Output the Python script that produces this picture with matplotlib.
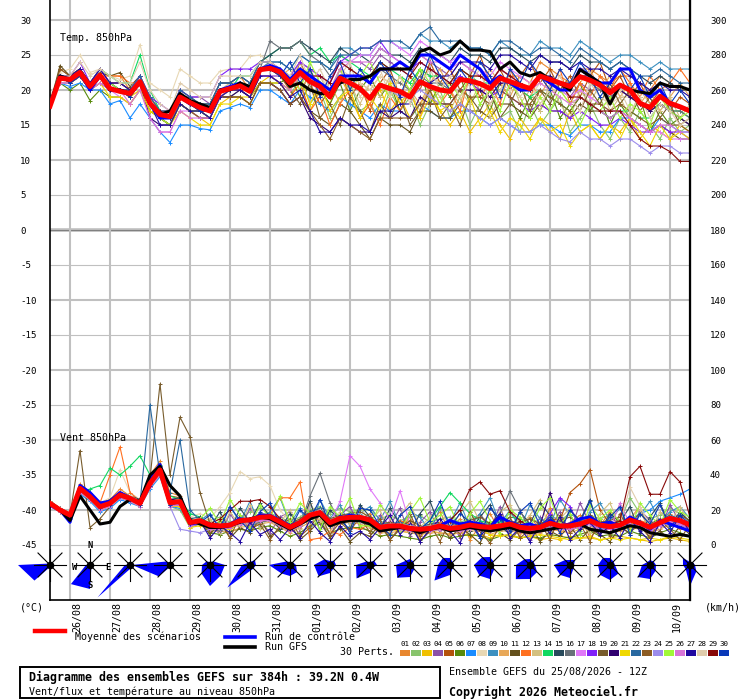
import numpy as np
import matplotlib
matplotlib.use("Agg")
import matplotlib.pyplot as plt
from matplotlib.patches import Rectangle
from matplotlib.transforms import ScaledTranslation

plt.rcParams['font.family'] = 'DejaVu Sans Mono'

# forecast steps, every 6h over 384h
HOURS = np.arange(65) * 6

DATES = ["26/08", "27/08", "28/08", "29/08", "30/08", "31/08", "01/09", "02/09",
         "03/09", "04/09", "05/09", "06/09", "07/09", "08/09", "09/09", "10/09"]

PERT_COLORS = ['#e8872f', '#88c46c', '#f0c000', '#8c52a8', '#b4520c', '#588a0c',
               '#1a8cff', '#e8d8b4', '#3c90c0', '#e8a858', '#64501c', '#ff7020',
               '#d4c080', '#10d860', '#284a5c', '#687078', '#e078f8', '#8020f8',
               '#785c2c', '#300070', '#f0d800', '#2868a0', '#8c5c24', '#9c8cec',
               '#a0f838', '#d874d8', '#2008a0', '#e0ccac', '#880808', '#0838b8']

# temperature 850hPa (°C)
T_MEAN = [17.7, 21.7, 21.5, 22.5, 20.5, 22.1, 20.2, 19.8, 19.5, 21.2,
          18.1, 16.5, 16.2, 19.0, 18.2, 17.5, 17.0, 19.8, 20.2, 20.6,
          19.8, 22.9, 23.1, 22.6, 21.0, 22.5, 21.2, 20.5, 19.0, 21.7,
          21.0, 20.2, 18.8, 20.7, 20.2, 19.8, 19.0, 21.2, 20.5, 20.0,
          19.8, 21.5, 21.3, 20.9, 20.2, 21.7, 21.2, 20.7, 20.2, 22.0,
          21.5, 21.0, 20.5, 21.9, 21.4, 20.7, 19.6, 20.7, 20.0, 18.1,
          17.5, 19.1, 18.1, 17.6, 17.0]
T_CTRL = "18 22 21.5 22.5 20 22 20 20 | 19.5 21 18 16 16 19 18 17.5 | 17 20 20.5 21 20 23 23.5 23 | 21.5 23 22 21 20 22 22 22 | 21 23 23 24 23 25 25 24 | 23 25 24 23 21 22 21 20 | 20 22 21 20 20 23 22 21 | 21 23 23 20 19 20 18 17.5 | 17"
T_GFS = "18 22 21.5 22.5 20.5 22 20 20 | 19.5 21 18 16.5 17 19.5 18.5 18 | 17.5 20 20 21 20.5 23 23 22.5 | 20.5 21 20 19.5 19.5 21 21.5 21.5 | 22 23 23 23 23 25.5 26 25 | 25.5 27 25.7 25.7 25.5 23 24 22.5 | 22 22.5 21.5 21 20 22.9 22 21 | 18 20.7 20 19.7 19.5 21 20.5 20.5 | 20"
T_PERTS = [
    "18 22 22 23 21 23 22 22 | 20 21 19 17 17 20 19 18 | 18 21 21 22 20 23 24 23 | 21 23 22 21 19 22 22 21 | 20 22 21 21 20 23 22 21 | 21 23 22 22 21 23 22 22 | 21 24 23 22 21 23 23 22 | 21 22 22 21 20 22 21 20 | 20",
    "18 21 21 22 20 22 21 20 | 19 21 18 16 15 19 18 17 | 16 19 19 20 19 22 22 21 | 19 22 18 20 16 19 21 17 | 18 16 20 17 19 15 18 20 | 16 19 15 18 20 16 17 14 | 18 15 17 19 14 16 18 15 | 13 16 14 17 15 13 16 14 | 15",
    "18 22 21 22 20 21 20 20 | 19 20 17 16 15 18 17 16 | 15 18 19 19 18 21 22 21 | 19 21 17 20 18 22 19 16 | 18 20 17 19 16 18 20 17 | 15 17 14 16 18 15 13 16 | 14 16 15 13 17 14 15 13 | 15 14 16 13 15 14 13 15 | 14",
    "18 22 22 23 21 22 20 20 | 20 22 19 17 17 20 19 19 | 18 21 21 22 21 24 24 23 | 22 24 23 22 21 25 24 24 | 23 25 24 23 22 25 24 23 | 22 24 23 22 21 23 22 21 | 20 22 21 20 19 21 20 20 | 19 20 19 18 17 18 17 16 | 15",
    "18 23 22 23 21 23 21 21 | 20 22 19 17 16 19 18 18 | 17 20 20 21 20 22 22 22 | 20 24 21 18 20 23 19 21 | 17 21 23 19 22 20 24 21 | 23 20 22 25 21 23 20 22 | 24 21 23 20 22 19 22 24 | 20 22 19 21 18 20 17 19 | 18",
    "18 21 20 21 18.5 20 19 19 | 18 20 17 16 15 18 17 17 | 16 19 20 20 19 21 21 21 | 22 19 23 20 18 21 17 20 | 22 19 21 17 20 23 18 21 | 19 22 18 20 17 21 19 16 | 19 17 20 16 18 21 17 19 | 15 18 16 19 14 17 15 16 | 15",
    "18 21 20.5 21 20 20 18 18.5 | 16 18 16 14 12.5 15 15 14.5 | 14.3 17 17.5 18 17.5 20 20 19 | 18 20 19 18 17 19 18 17 | 16 18 17 17 16 18 17 16 | 16 17 17 16 15 16 15 14 | 14 15 15 14 13.5 15 15 14 | 14 16 16 15 14 16 15 14 | 14",
    "19 22.5 23 25 22.5 23 22 21.5 | 22 26.5 21 20 19 23 22 21 | 21 22.7 23 23 24.8 25 24 23 | 22 24 23 22 20 23 22 21 | 20 22 21 21 20 22 22 21 | 20 22 21 21 20 21 20 20 | 19 21 20 20 19 20 19 18 | 18 19 19 18 17 18 17 17 | 16",
    "18 22 21 22 20 22 20 20 | 19 21 18 17 16 19 18 18 | 17 20 20 21 20 23 24 24 | 23 25 24 24 23 26 26 25 | 25 27 27 26 26 28 27 27 | 26 27 26 26 25 27 26 25 | 25 27 26 26 25 27 26 25 | 24 25 25 24 23 24 23 23 | 23",
    "18 22 21 23 21 22 20 20 | 19 21 18 17 16 19 18 17 | 17 20 20 20 20 23 23 22 | 23 20 22 19 21 18 22 20 | 18 21 19 22 20 18 21 23 | 20 18 22 20 23 21 19 22 | 21 19 22 20 18 21 23 20 | 22 19 21 18 20 17 19 21 | 19",
    "18 23.5 22 23 21 22.5 22 22.5 | 20.5 22 18 16 15 18 17 16 | 16 19 19 19 18 21 21 20 | 18 19 17 16 15 18 17 15 | 13 16 15 15 14 17 17 16 | 16 18 17 17 16 18 18 17 | 16 18 17 17 16 18 17 17 | 16 17 16 15 14 15 14 13 | 13",
    "18 22 21 22 21 22 22 22 | 21 21 19 17 16 19 18 17 | 17 20 20 21 20 22 22 21 | 19 21 17 19 15 18 20 16 | 18 15 19 17 20 16 21 18 | 20 17 22 19 21 18 23 20 | 19 22 20 23 18 21 19 22 | 20 23 21 19 22 20 21 23 | 21",
    "18 21 21 22 20 22 20 20 | 19 21 18 17 16 19 18 17 | 17 20 21 21 20 22 22 22 | 21 24 20 22 19 23 21 18 | 21 19 22 18 20 17 21 19 | 17 20 18 21 16 19 22 18 | 20 17 21 18 16 20 18 21 | 17 19 16 20 18 17 19 16 | 18",
    "18 22 22 23 21 23 22 21 | 21 25 20 17 16 19 18 18 | 17 20 20 22 22 24 25 26 | 26 27 25 26 24 25 24 23 | 22 24 23 22 21 23 22 22 | 21 23 22 21 21 22 21 20 | 19 20 19 18 17 19 18 17 | 16 17 17 16 16 18 17 17 | 16",
    "18 22 21 22 20 22 21 20 | 20 22 18 17 16 19 19 18 | 18 21 21 22 21 24 25 26 | 26 27 26 25 24 26 25 25 | 24 26 25 25 24 26 25 25 | 24 26 25 25 24 26 26 25 | 24 25 24 24 23 25 24 24 | 23 24 23 22 21 22 21 20 | 20",
    "18 21 21 22 20 22 20 20 | 19 21 18 16 16 19 18 18 | 17 20 20 21 20 23 27 26 | 26 27 25 24 22 24 23 22 | 21 23 22 21 20 22 21 21 | 20 22 21 21 20 22 21 21 | 20 22 21 21 20 22 21 20 | 19 20 19 18 17 18 17 17 | 16",
    "18 21 21 22 20 21 20 19 | 18 20 16 14 14 17 17 16 | 16 19 20 20 19 22 22 22 | 21 23 22 22 21 24 24 25 | 25 27 27 26 25 27 26 25 | 24 25 24 23 22 24 23 22 | 21 22 21 20 19 20 19 18 | 17 17 16 15 14 14 13 13 | 13",
    "18 22 22 24 21 23 21 21 | 20 22 19 18 17 20 19 19 | 19 22 23 23 23 24 24 23 | 22 24 23 22 21 24 25 26 | 26 27 25 24 23 24 23 22 | 21 22 21 20 19 20 19 18 | 17 18 17 17 16 17 16 15 | 15 16 15 14 14 15 14 14 | 13",
    "18 22 22 23 21 22 21 20 | 20 21 18 16 15 18 17 17 | 16 19 20 20 19 22 22 21 | 20 18 21 16 18 15 19 17 | 14 18 16 19 15 17 20 16 | 18 15 19 17 20 16 18 21 | 17 20 18 21 19 17 20 18 | 21 18 20 17 19 16 18 15 | 16",
    "18 22 21 22 20 21 20 20 | 19 21 16 15 15 18 17 17 | 16 19 19 20 19 21 21 20 | 18 19 16 15 14 16 15 14 | 14 17 16 17 16 19 18 18 | 18 20 20 20 19 21 21 20 | 20 22 22 21 21 22 22 21 | 20 20 19 18 17 18 17 16 | 15",
    "18 21 21 22 20 21 19 19 | 18 20 17 16 15 17 16 15 | 15 18 18 19 19 21 21 21 | 20 22 18 21 17 19 20 16 | 19 17 21 18 20 16 19 17 | 18 16 19 15 17 14 16 15 | 13 16 14 15 12 14 15 13 | 15 13 16 14 12 15 13 14 | 13",
    "18 22 22 23 21 22 21 20 | 20 22 19 17 17 20 19 18 | 18 21 21 22 21 24 24 24 | 23 25 24 24 23 25 25 26 | 26 27 27 27 26 28 29 27 | 27 27 26 26 25 27 27 26 | 25 26 26 25 24 26 25 24 | 23 24 23 22 22 23 22 21 | 21",
    "18 23 22 23 21 22 21 21 | 20 21 18 16 15 18 17 16 | 16 19 19 19 18 21 21 20 | 18 19 17 15 13 16 15 14 | 13 16 16 16 16 18 18 18 | 18 20 19 19 18 20 19 18 | 18 20 19 18 17 19 18 18 | 17 18 17 16 15 16 15 15 | 14",
    "18 21 21 22 20 22 20 20 | 19 21 18 17 16 19 18 17 | 17 20 20 21 20 22 22 22 | 21 22 21 20 19 21 21 20 | 19 21 20 19 19 20 19 18 | 17 18 17 16 15 16 15 14 | 14 15 14 13 12.6 14 13 13 | 12 13 13 12 11 12 12 11 | 11",
    "18 22 21 22 20 22 21 20 | 19 21 18 16 15 18 17 17 | 16 19 20 21 20 23 23 23 | 22 20 24 21 19 23 20 22 | 24 21 19 22 20 23 21 18 | 21 19 22 18 20 17 21 19 | 16 19 17 20 18 15 18 17 | 19 16 18 17 15 19 17 16 | 17",
    "18 21 21 22 20 21 20 20 | 18 20 16 14 14 17 16 16 | 16 19 20 21 20 22 22 21 | 20 22 21 20 20 23 24 24 | 24 26 25 24 23 25 24 24 | 23 24 23 22 21 23 22 21 | 20 21 20 19 18 19 18 17 | 16 17 16 15 14 15 15 14 | 14",
    "18 22 22 23 21 23 21 21 | 20 21 18 15 15 18 17 17 | 16 19 20 20 19 22 22 21 | 19 20 17 14 14 16 15 15 | 14 17 17 18 18 21 21 22 | 22 24 24 24 23 25 25 24 | 23 25 24 24 23 24 23 23 | 22 23 22 21 20 21 20 20 | 19",
    "18 22 22 24 22 23 22 21 | 21 24 20 18 17 21 20 19 | 19 22 22 22 22 24 24 23 | 22 25 21 23 20 22 24 19 | 21 23 19 22 18 21 23 20 | 22 19 21 23 18 20 22 19 | 21 18 20 22 19 17 21 19 | 18 20 17 19 16 18 17 15 | 16",
    "18 22 21 22 20 22 20 20 | 19 21 18 17 16 19 18 17 | 17 20 20 21 20 23 23 22 | 21 23 22 22 21 24 23 22 | 22 24 23 23 22 24 23 22 | 21 23 22 22 21 23 22 21 | 20 22 21 21 19 19 18 17 | 17 17 15 13 12 12 11.2 9.8 | 9.8",
    "18 22 21 22 20 22 20 20 | 19 21 18 16 16 19 18 17 | 17 20 20 21 20 23 23 22 | 24 21 23 19 22 24 20 23 | 21 24 22 19 23 21 25 22 | 20 23 21 24 22 19 23 21 | 24 22 20 23 21 24 22 19 | 21 23 20 22 19 21 18 20 | 18",
]

# wind 850hPa (km/h)
W_MEAN = [23.8, 20.0, 17.1, 32.4, 27.6, 21.9, 23.8, 28.6, 26.7, 23.8,
          35.2, 42.9, 24.2, 24.8, 12.8, 13.9, 11.4, 10.9, 11.4, 13.9,
          14.3, 15.8, 16.2, 13.3, 10.1, 12.8, 17.1, 18.5, 12.8, 15.2,
          15.8, 15.8, 14.3, 10.1, 10.9, 10.9, 9.5, 9.0, 9.5, 10.9,
          9.5, 10.1, 11.4, 10.5, 10.1, 10.9, 12.0, 10.1, 9.5, 10.1,
          12.4, 10.9, 10.9, 12.0, 13.9, 11.4, 10.5, 11.4, 14.3, 12.4,
          10.1, 12.8, 15.2, 13.9, 11.4]
W_CTRL = "24 20 13 34 30 24 25 30 | 27 24 38 46 25 24 12 13 | 10 11 12 15 14 17 17 14 | 11 13 16 19 12 15 17 16 | 15 10 11 11 10 9 10 11 | 14 12 13 12 10 16 13 11 | 12 10 14 11 12 15 16 12 | 13 11 16 13 9 14 12 10 | 8"
W_GFS = "24 20 14 28 20 12 13 22 | 26 25 40 45 34 28 14 12 | 10 10 11 13 15 16 15 12 | 9 12 15 17 11 13 14 14 | 12 8 9 10 9 7 9 10 | 8 9 10 9 8 9 10 8 | 7 8 9 10 11 12 9 8 | 7 9 11 10 7 6 5 6 | 5"
W_PERTS = [
    "24 21 18 35 30 24 26 32 | 28 26 40 48 30 28 14 12 | 10 9 12 16 15 18 17 14 | 11 14 18 20 12 14 17 15 | 18 6 14 9 16 4 12 19 | 7 15 3 11 18 8 14 5 | 16 9 21 6 13 17 4 11 | 19 8 15 22 6 12 18 9 | 12",
    "23 19 16 30 26 21 22 27 | 25 22 33 40 22 20 10 12 | 14 16 13 15 19 21 18 16 | 13 16 20 22 18 21 19 20 | 20 15 17 14 16 17 13 15 | 16 13 15 17 12 14 18 13 | 15 13 17 14 18 14 17 15 | 17 14 27 18 15 17 21 18 | 14",
    "24 20 17 31 27 21 25 30 | 27 25 36 44 26 24 11 13 | 9 10 12 13 12 15 17 12 | 8 12 15 17 12 13 15 16 | 13 8 9 8 7 6 8 7 | 6 7 5 6 4 6 5 4 | 5 3 4 3 5 4 4 3 | 4 5 4 3 2 3 4 3 | 2",
    "25 21 18 33 29 23 24 28 | 26 25 34 42 25 26 14 15 | 12 6 18 9 21 14 7 16 | 19 8 24 12 5 17 22 10 | 8 17 11 21 5 13 19 7 | 15 4 12 18 9 22 6 14 | 3 16 10 19 7 24 12 5 | 17 11 6 20 14 8 23 13 | 12",
    "24 20 18 34 28 22 24 29 | 27 24 37 45 28 27 13 14 | 11 12 12 14 14 16 17 13 | 11 13 17 19 14 16 17 17 | 15 10 11 12 11 10 12 13 | 10 11 13 12 10 12 14 12 | 11 12 15 14 30 35 43 20 | 12 11 14 13 10 12 14 13 | 11",
    "23 20 16 30 26 20 23 28 | 26 23 34 41 24 24 12 13 | 7 6 8 9 8 10 11 8 | 5 7 11 13 7 9 10 10 | 8 5 6 5 4 3 5 6 | 4 5 6 5 3 5 6 4 | 5 4 6 5 4 6 8 5 | 6 5 8 6 4 7 9 7 | 5",
    "22 19 15 29 25 19 21 26 | 24 22 32 39 22 21 11 12 | 10 10 10 12 13 14 15 12 | 9 11 15 17 11 13 14 14 | 12 9 10 10 9 8 9 10 | 9 10 11 10 9 10 11 9 | 9 10 12 11 10 12 13 10 | 11 10 14 18 20 25 27 29 | 32",
    "24 21 18 33 29 24 27 43 | 30 26 38 45 26 26 16 18 | 15 22 30 42 38 39 34 20 | 13 15 18 20 14 16 15 16 | 14 10 11 11 10 9 10 11 | 10 10 11 11 10 11 12 10 | 10 10 12 11 11 12 14 11 | 11 11 14 12 10 13 15 14 | 11",
    "24 20 17 32 27 22 25 30 | 28 25 36 44 25 24 13 14 | 18 9 22 13 25 11 19 27 | 12 21 8 26 15 23 11 18 | 22 14 25 11 19 16 8 21 | 13 24 10 18 27 12 20 9 | 23 15 11 26 17 8 19 24 | 14 21 9 17 25 13 19 22 | 15",
    "23 20 17 31 27 21 23 28 | 26 23 35 43 24 25 12 13 | 8 8 7 10 11 12 13 10 | 7 10 13 15 10 12 13 12 | 10 7 7 8 7 6 7 7 | 6 7 8 8 6 8 8 7 | 6 7 9 8 7 9 10 8 | 7 8 10 9 7 9 12 10 | 8",
    "25 21 17 33 28 22 24 29 | 27 24 35 42 23 25 13 13 | 6 13 4 10 7 15 5 9 | 12 3 8 14 4 10 2 7 | 5 12 3 9 14 2 8 11 | 4 10 6 1 13 7 3 9 | 12 2 8 5 11 3 9 6 | 2 10 7 13 4 8 3 11 | 6",
    "24 20 17 33 28 24 40 56 | 30 25 36 44 26 25 14 15 | 12 11 12 14 15 16 17 27 | 27 36 3 4 8 6 10 9 | 12 8 9 14 12 7 8 13 | 11 8 13 9 12 9 14 8 | 12 9 10 13 9 14 12 13 | 9 13 12 14 12 11 13 16 | 10",
    "23 19 16 31 29 23 25 30 | 28 25 36 41 23 26 14 13 | 15 7 19 11 23 9 17 13 | 20 9 24 14 7 19 12 22 | 13 20 7 17 24 10 16 22 | 9 18 25 13 6 19 23 11 | 17 26 8 15 21 12 7 18 | 24 10 16 20 7 19 13 22 | 12",
    "24 20 18 30 32 34 44 40 | 45 51 40 46 28 26 18 16 | 12 10 11 13 14 15 16 13 | 10 12 16 18 12 14 15 16 | 14 10 11 11 10 9 14 22 | 30 24 18 14 12 13 16 15 | 12 11 10 12 10 11 12 10 | 9 11 13 12 10 12 14 13 | 10",
    "25 21 18 33 28 23 26 30 | 28 26 38 45 26 27 15 16 | 10 19 8 21 13 24 16 9 | 18 11 25 8 20 14 9 23 | 16 9 21 12 7 18 25 10 | 14 20 8 16 23 11 6 19 | 12 24 17 9 20 14 26 8 | 18 13 22 7 16 24 11 19 | 13",
    "24 20 17 32 28 22 24 29 | 27 24 35 43 25 25 13 14 | 9 8 10 12 11 13 14 11 | 8 11 28 41 24 13 14 13 | 11 8 9 9 8 7 8 9 | 8 8 9 9 8 18 31 20 | 8 8 10 9 9 10 12 9 | 9 9 12 10 8 11 13 12 | 9",
    "23 20 17 31 27 21 23 28 | 26 23 34 41 23 24 12 13 | 10 10 11 13 13 15 15 12 | 9 12 16 18 12 25 51 45 | 32 24 14 31 12 9 10 11 | 10 10 11 11 10 11 12 10 | 10 10 12 11 11 12 14 11 | 11 11 14 12 10 13 15 14 | 10",
    "22 19 16 30 26 20 22 27 | 25 22 33 40 22 23 11 12 | 9 9 10 12 12 14 14 11 | 8 11 15 17 11 13 14 14 | 12 8 9 9 8 7 8 9 | 8 8 9 9 8 9 10 8 | 8 8 18 27 22 10 12 9 | 9 9 12 10 8 11 13 12 | 9",
    "24 20 17 54 10 15 22 28 | 27 24 38 92 40 73 62 30 | 12 11 11 14 14 16 16 13 | 12 15 19 21 15 17 18 19 | 16 12 13 10 14 11 9 12 | 13 11 14 16 12 17 12 13 | 15 12 11 14 16 11 17 13 | 14 16 13 18 12 15 13 17 | 14",
    "25 21 17 33 28 23 25 30 | 28 25 36 44 26 26 14 15 | 12 12 12 15 15 17 17 14 | 11 14 18 20 14 16 17 17 | 15 11 12 12 11 10 11 12 | 11 11 12 12 11 12 13 11 | 11 11 30 12 12 13 15 12 | 12 12 15 13 11 14 16 15 | 12",
    "23 19 16 30 26 20 22 27 | 25 22 33 40 22 22 10 11 | 9 9 9 12 12 14 14 11 | 8 11 15 17 11 13 14 14 | 12 8 9 9 8 7 8 9 | 8 8 9 9 6 5 6 4 | 5 6 5 4 3 4 5 3 | 4 3 4 3 4 3 5 4 | 3",
    "24 20 17 32 28 22 24 29 | 27 24 80 40 30 60 20 14 | 11 13 12 16 14 18 17 15 | 12 14 19 21 14 16 18 17 | 15 12 12 13 11 10 12 12 | 11 12 12 13 11 12 14 11 | 12 11 13 12 12 14 15 12 | 12 13 15 13 11 14 17 15 | 12",
    "23 21 18 31 27 21 23 28 | 26 23 34 42 23 24 12 13 | 8 14 4 17 9 12 3 11 | 15 5 10 18 6 13 8 16 | 7 15 3 10 18 5 12 2 | 14 6 19 8 1 11 16 4 | 9 13 3 17 7 12 2 15 | 5 18 8 11 4 14 9 3 | 12",
    "24 20 17 31 27 21 23 27 | 26 23 34 41 22 9 8 7 | 9 10 11 13 13 15 15 12 | 9 12 16 18 12 14 15 15 | 13 9 10 10 9 8 9 10 | 9 9 10 10 9 10 11 9 | 9 9 11 10 10 11 13 10 | 10 10 13 11 9 12 14 13 | 10",
    "25 21 18 33 29 23 25 30 | 28 25 36 44 25 26 14 15 | 21 12 26 17 10 23 15 28 | 13 24 18 9 22 16 27 11 | 11 23 16 8 19 27 13 17 | 22 9 18 25 14 7 20 16 | 10 21 27 12 18 6 23 15 | 20 13 8 24 17 11 26 19 | 16",
    "23 19 16 30 26 20 22 27 | 25 22 33 40 22 23 11 12 | 9 9 10 12 12 14 14 11 | 8 11 15 17 11 13 14 14 | 12 8 9 9 8 7 8 9 | 8 8 9 9 8 9 10 8 | 8 8 10 9 9 10 12 9 | 9 24 12 10 8 11 13 12 | 9",
    "24 21 18 33 28 23 25 29 | 27 25 36 43 25 25 13 14 | 4 11 7 2 13 6 9 3 | 10 4 14 7 2 11 5 8 | 3 10 17 6 12 2 9 15 | 8 1 14 5 11 18 4 10 | 2 12 7 16 3 9 13 6 | 11 4 15 8 2 13 7 17 | 7",
    "25 21 18 34 29 23 25 30 | 28 25 37 44 25 26 14 15 | 12 12 12 15 15 17 17 14 | 11 14 18 20 14 16 17 17 | 15 11 12 12 11 10 11 12 | 11 11 12 12 11 12 13 11 | 11 11 13 12 12 13 15 12 | 12 12 33 22 11 14 16 15 | 12",
    "24 20 17 32 28 22 24 29 | 27 24 35 43 24 25 13 14 | 12 15 20 25 25 26 22 15 | 10 13 17 19 13 15 16 16 | 14 10 11 11 10 9 10 11 | 14 20 32 36 29 31 19 14 | 10 10 12 11 11 12 14 11 | 11 14 39 45 29 29 42 36 | 16",
    "23 20 17 31 27 21 23 28 | 26 23 34 42 23 24 12 13 | 17 10 22 14 8 19 24 12 | 9 20 15 26 11 17 7 21 | 20 11 6 17 22 9 14 25 | 10 18 13 4 21 15 8 19 | 24 11 16 7 20 13 25 9 | 16 22 6 18 12 23 10 17 | 12",
]

# daily wind roses (radius in px) for N, NE, E, SE, S, SW, W, NW
ROSES = [
    [1, 1, 2, 1, 2, 22, 32, 2],
    [1, 1, 1, 2, 24, 27, 4, 1],
    [1, 1, 1, 1, 4, 46, 5, 1],
    [2, 2, 3, 2, 2, 16, 38, 5],
    [3, 5, 15, 15, 21, 12, 8, 5],
    [3, 7, 6, 5, 6, 32, 8, 3],
    [3, 4, 6, 10, 11, 12, 21, 5],
    [4, 6, 6, 5, 8, 16, 16, 8],
    [3, 6, 7, 4, 8, 19, 14, 5],
    [6, 5, 4, 6, 12, 18, 14, 6],
    [7, 4, 3, 4, 10, 22, 12, 10],
    [8, 5, 3, 6, 14, 15, 16, 11],
    [6, 5, 5, 10, 14, 20, 14, 8],
    [5, 7, 4, 5, 13, 14, 16, 7],
    [7, 5, 5, 12, 15, 14, 12, 10],
    [5, 5, 6, 8, 14, 17, 8, 4],
    [3, 4, 5, 9, 21, 6, 7, 10],
]


def series(s):
    return np.array(s.replace('|', ' ').split(), dtype=float)


def wind_to_y(w):
    # wind panel shares the axis: 0 km/h at -45, 4 km/h per unit
    return np.asarray(w, dtype=float) / 4.0 - 45


W, H = 740, 700
fig = plt.figure(figsize=(W / 100, H / 100), dpi=100)
ax = fig.add_axes([50 / W, 100 / H, 640 / W, 600 / H])
ytop, ybot = 230 / 7, (230 - 600) / 7
ax.set_xlim(0, 384)
ax.set_ylim(ybot, ytop)
sx = 384 / 640          # hours per px
sy = (ytop - ybot) / 600  # units per px

# grid
for v in range(-45, 31, 5):
    ax.axhline(v, color='#c0c0c0', lw=1.5 if v % 10 == 0 else 0.8, zorder=0)
ax.axhline(0, color='#c0c0c0', lw=2.6, zorder=0)
ax.axhline(0, color='#808080', lw=0.8, zorder=0)
day_ticks = 12 + 24 * np.arange(16)
ax.set_xticks(day_ticks)
ax.set_xticklabels(DATES, rotation=90, fontsize=7.2)
ax.grid(axis='x', color='#c0c0c0', lw=1.5)
ax.set_axisbelow(True)
ax.tick_params(axis='x', length=0, pad=1.5)
for lab in ax.get_xticklabels():
    lab.set_transform(lab.get_transform() + ScaledTranslation(0.07, 0, fig.dpi_scale_trans))

yt = list(range(-45, 31, 5))
ax.set_yticks(yt)
ax.set_yticklabels([str(v) for v in yt], fontsize=6.6)
ax.tick_params(axis='y', length=0, pad=21.6)
for lab in ax.get_yticklabels():
    lab.set_horizontalalignment('left')

ax2 = ax.twinx()
ax2.set_ylim(ybot, ytop)
ax2.set_yticks(yt)
ax2.set_yticklabels([str(180 + 4 * v) for v in yt], fontsize=6.6)
ax2.tick_params(axis='y', length=0, pad=14.4)

for a in (ax, ax2):
    a.spines['top'].set_visible(False)
ax.spines['left'].set_linewidth(1.2)
ax.spines['bottom'].set_linewidth(1.2)
ax2.spines['right'].set_linewidth(1.6)
ax2.spines['left'].set_visible(False)
ax2.spines['bottom'].set_visible(False)

# perturbations
for col, ts, ws in zip(PERT_COLORS, T_PERTS, W_PERTS):
    ax.plot(HOURS, series(ts), color=col, lw=0.8, marker='+', ms=3, mew=0.7, zorder=2)
    ax.plot(HOURS, wind_to_y(series(ws)), color=col, lw=0.8, marker='+', ms=3, mew=0.7, zorder=2)

ax.plot(HOURS, series(T_CTRL), color='#0000ff', lw=2.2, zorder=3)
ax.plot(HOURS, wind_to_y(series(W_CTRL)), color='#0000ff', lw=2.2, zorder=3)
ax.plot(HOURS, series(T_GFS), color='black', lw=2.2, zorder=4)
ax.plot(HOURS, wind_to_y(series(W_GFS)), color='black', lw=2.2, zorder=4)
ax.plot(HOURS, T_MEAN, color='#ff0000', lw=3.6, zorder=5)
ax.plot(HOURS, wind_to_y(W_MEAN), color='#ff0000', lw=3.6, zorder=5)

ax.text(10 * sx, (230 - 38) / 7, 'Temp. 850hPa', fontsize=7.2, va='center', zorder=6)
ax.text(10 * sx, (230 - 438) / 7, 'Vent 850hPa', fontsize=7.2, va='center', zorder=6)

# wind roses, one per day
dirs = np.array([[0, -1], [0.707, -0.707], [1, 0], [0.707, 0.707],
                 [0, 1], [-0.707, 0.707], [-1, 0], [-0.707, -0.707]])
yc = (230 - 565) / 7
for k, radii in enumerate(ROSES):
    hc = 24 * k
    pts = [(hc + r * d[0] * sx, yc - r * d[1] * sy) for r, d in zip(radii, dirs)]
    ax.fill([p[0] for p in pts], [p[1] for p in pts], color='#0000ff', lw=0,
            zorder=6, clip_on=False)
    for ddx, ddy in [(16, 0), (0, 16), (12, 12), (12, -12)]:
        ax.plot([hc - ddx * sx, hc + ddx * sx], [yc + ddy * sy, yc - ddy * sy],
                color='black', lw=0.8, zorder=7, clip_on=False)
    ax.plot([hc], [yc], 'o', color='black', ms=4.5, zorder=8, clip_on=False)

for lbl, ox, oy in [('N', 0, -19), ('W', -15, 2), ('E', 18, 2), ('S', 0, 21)]:
    ax.text(24 + ox * sx, yc - oy * sy, lbl, fontsize=6.3, fontweight='bold',
            ha='center', va='center', zorder=9, clip_on=False)

# legend / captions in pixel coordinates
ov = fig.add_axes([0, 0, 1, 1])
ov.set_xlim(0, W)
ov.set_ylim(H, 0)
ov.axis('off')

ov.text(20, 607, '(°C)', fontsize=7.2, va='center')
ov.text(705, 607, '(km/h)', fontsize=7.2, va='center')

ov.plot([35, 65], [631, 631], color='#ff0000', lw=3.2)
ov.text(75, 637, 'Moyenne des scénarios', fontsize=7.2, va='center')
ov.plot([225, 255], [637, 637], color='#0000ff', lw=2.6)
ov.text(265, 637, 'Run de contrôle', fontsize=7.2, va='center')
ov.plot([225, 255], [647, 647], color='black', lw=2.6)
ov.text(265, 647, 'Run GFS', fontsize=7.2, va='center')
ov.text(340, 652, '30 Perts.', fontsize=7.2, va='center')

for j, col in enumerate(PERT_COLORS):
    x0 = 400 + 11 * j
    ov.add_patch(Rectangle((x0, 650), 10, 6, color=col, lw=0))
    ov.text(x0 + 5, 644, '%02d' % (j + 1), fontsize=5.4, ha='center', va='center')

ov.add_patch(Rectangle((20, 667), 420, 31, fill=False, edgecolor='black', lw=1.4))
ov.text(29, 677, 'Diagramme des ensembles GEFS sur 384h : 39.2N 0.4W',
        fontsize=8.4, fontweight='bold', va='center')
ov.text(29, 692, 'Vent/flux et température au niveau 850hPa', fontsize=7.2, va='center')
ov.text(449, 672, 'Ensemble GEFS du 25/08/2026 - 12Z', fontsize=7.2, va='center')
ov.text(449, 692, 'Copyright 2026 Meteociel.fr', fontsize=8.4, fontweight='bold', va='center')

fig.savefig('out.png', dpi=100)
